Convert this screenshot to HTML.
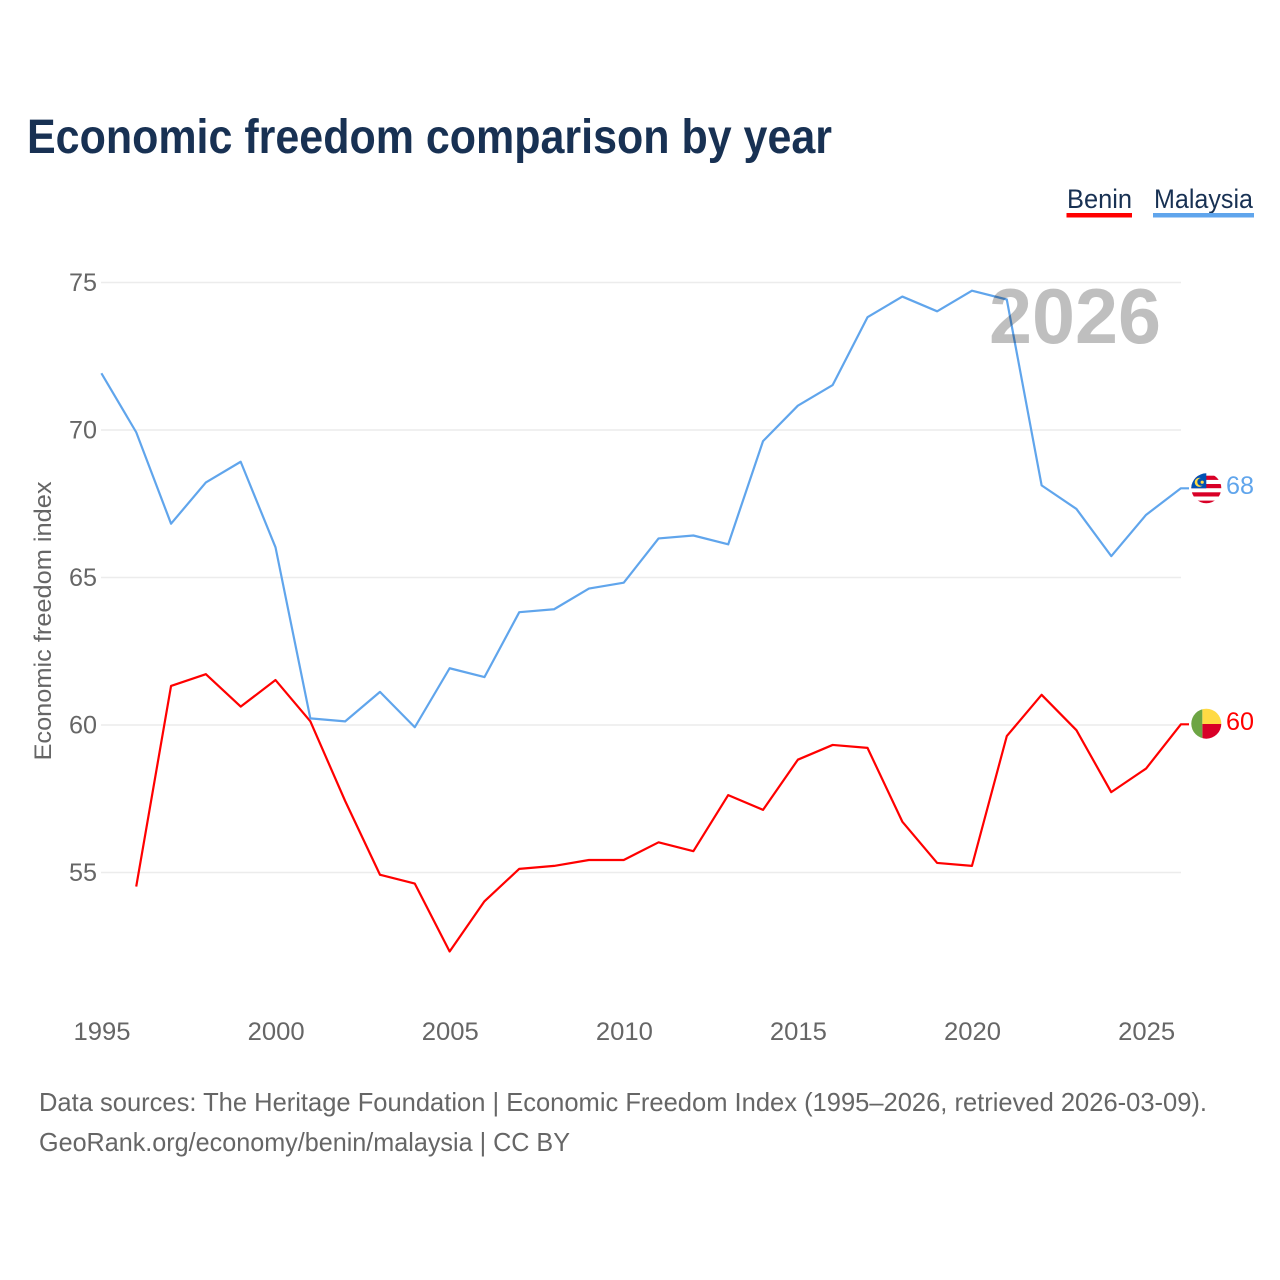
<!DOCTYPE html>
<html lang="en">
<head>
<meta charset="utf-8">
<title>Economic freedom comparison by year</title>
<style>
html,body{margin:0;padding:0;background:#fff;}
svg{display:block;font-family:"Liberation Sans",sans-serif;}
</style>
</head>
<body>
<svg id="chart" xmlns="http://www.w3.org/2000/svg" width="1280" height="1280" viewBox="0 0 1280 1280">
  <defs>
    <clipPath id="flag-clip-my"><circle cx="1206.3" cy="488.3" r="15"/></clipPath>
    <clipPath id="flag-clip-bj"><circle cx="1206.3" cy="723.7" r="15"/></clipPath>
  </defs>
  <rect width="1280" height="1280" fill="#fff"/>
  <text x="27" y="153" font-size="48" font-weight="700" fill="#183153" textLength="805" lengthAdjust="spacingAndGlyphs">Economic freedom comparison by year</text>

  <g>
    <text x="1067" y="208" font-size="27" fill="#183153" textLength="65" lengthAdjust="spacingAndGlyphs">Benin</text>
    <rect x="1066.5" y="213" width="65.5" height="4.5" fill="#ff0000"/>
  </g>
  <g>
    <text x="1154" y="208" font-size="27" fill="#183153" textLength="99" lengthAdjust="spacingAndGlyphs">Malaysia</text>
    <rect x="1153" y="213" width="101" height="4.5" fill="#60a5ec"/>
  </g>

  <g id="grid"></g>
  <g id="y-ticks"></g>
  <g id="x-ticks"></g>
  <text transform="translate(51,621) rotate(-90)" text-anchor="middle" font-size="24" fill="#666" textLength="279" lengthAdjust="spacingAndGlyphs">Economic freedom index</text>

  <g id="series"></g>

  <text x="989" y="343" font-size="78" font-weight="700" fill="#000" fill-opacity="0.25" textLength="172" lengthAdjust="spacingAndGlyphs">2026</text>

  <g clip-path="url(#flag-clip-my)">
    <rect x="1191" y="473" width="31" height="31" fill="#fff"/>
    <rect x="1191" y="475.7" width="31" height="4.2" fill="#d80027"/>
    <rect x="1191" y="484" width="31" height="4.2" fill="#d80027"/>
    <rect x="1191" y="492.3" width="31" height="4.2" fill="#d80027"/>
    <rect x="1191" y="500.6" width="31" height="4.2" fill="#d80027"/>
    <rect x="1191" y="473" width="15.3" height="15.3" fill="#0052b4"/>
    <circle cx="1199.3" cy="482.3" r="4.6" fill="#ffda44"/>
    <circle cx="1201.2" cy="481.9" r="3.9" fill="#0052b4"/>
    <circle cx="1202.2" cy="482.2" r="1.6" fill="#ffda44"/>
  </g>
  <g clip-path="url(#flag-clip-bj)">
    <rect x="1202.3" y="708" width="20" height="16" fill="#ffda44"/>
    <rect x="1202.3" y="724" width="20" height="16" fill="#d80027"/>
    <rect x="1191" y="708" width="11.3" height="32" fill="#6da544"/>
  </g>
  <text id="end-malaysia" x="1226" y="494" font-size="25" fill="#60a5ec" textLength="28" lengthAdjust="spacingAndGlyphs"></text>
  <text id="end-benin" x="1226" y="730" font-size="25" fill="#ff0000" textLength="28" lengthAdjust="spacingAndGlyphs"></text>

  <text x="39" y="1111" font-size="26" fill="#666" textLength="1168" lengthAdjust="spacingAndGlyphs">Data sources: The Heritage Foundation | Economic Freedom Index (1995–2026, retrieved 2026-03-09).</text>
  <text x="39" y="1151" font-size="26" fill="#666" textLength="531" lengthAdjust="spacingAndGlyphs">GeoRank.org/economy/benin/malaysia | CC BY</text>
</svg>
<script>
const years = [1995,1996,1997,1998,1999,2000,2001,2002,2003,2004,2005,2006,2007,2008,2009,2010,2011,2012,2013,2014,2015,2016,2017,2018,2019,2020,2021,2022,2023,2024,2025,2026];
const malaysiaValues = [71.9,69.9,66.8,68.2,68.9,66.0,60.2,60.1,61.1,59.9,61.9,61.6,63.8,63.9,64.6,64.8,66.3,66.4,66.1,69.6,70.8,71.5,73.8,74.5,74.0,74.7,74.4,68.1,67.3,65.7,67.1,68.0];
const beninValues = [null,54.5,61.3,61.7,60.6,61.5,60.1,57.4,54.9,54.6,52.3,54.0,55.1,55.2,55.4,55.4,56.0,55.7,57.6,57.1,58.8,59.3,59.2,56.7,55.3,55.2,59.6,61.0,59.8,57.7,58.5,60.0];
const yTicks = [55,60,65,70,75];
const xTicks = [1995,2000,2005,2010,2015,2020,2025];

const NS = 'http://www.w3.org/2000/svg';
function xScale(year){ return 102 + (year - 1995) * (1181.5 - 102) / 31; }
function yScale(v){ return 725 - (v - 60) * 29.5; }
function lineX(year){ return xScale(year) - 0.6; }
function lineY(v){ return yScale(v) - 0.7; }

const gridGroup = document.getElementById('grid');
const yTickGroup = document.getElementById('y-ticks');
const xTickGroup = document.getElementById('x-ticks');
const seriesGroup = document.getElementById('series');

yTicks.forEach(function(t){
  const line = document.createElementNS(NS,'line');
  
  
  line.setAttribute('x1', 101);
  line.setAttribute('x2', 1181);
  line.setAttribute('y1', yScale(t));
  line.setAttribute('y2', yScale(t));
  line.setAttribute('stroke', '#ececec');
  line.setAttribute('stroke-width', 1.6);
  gridGroup.appendChild(line);

  const label = document.createElementNS(NS,'text');
  
  
  label.setAttribute('x', 97);
  label.setAttribute('y', yScale(t) + 8.5);
  label.setAttribute('text-anchor', 'end');
  label.setAttribute('font-size', 25);
  label.setAttribute('fill', '#666');
  label.setAttribute('textLength', 28);
  label.setAttribute('lengthAdjust', 'spacingAndGlyphs');
  label.textContent = t;
  yTickGroup.appendChild(label);
});

xTicks.forEach(function(t){
  const label = document.createElementNS(NS,'text');
  
  
  label.setAttribute('x', xScale(t));
  label.setAttribute('y', 1040);
  label.setAttribute('text-anchor', 'middle');
  label.setAttribute('font-size', 25);
  label.setAttribute('fill', '#666');
  label.setAttribute('textLength', 57);
  label.setAttribute('lengthAdjust', 'spacingAndGlyphs');
  label.textContent = t;
  xTickGroup.appendChild(label);
});

function linePoints(values){
  const pts = [];
  values.forEach(function(v,i){
    if (v !== null) pts.push(lineX(years[i]).toFixed(2) + ',' + lineY(v).toFixed(2));
  });
  const last = values[values.length - 1];
  pts.push('1189,' + lineY(last).toFixed(2));
  return pts.join(' ');
}

const beninLine = document.createElementNS(NS,'polyline');


beninLine.setAttribute('points', linePoints(beninValues));
beninLine.setAttribute('fill', 'none');
beninLine.setAttribute('stroke', '#ff0000');
beninLine.setAttribute('stroke-width', 2.2);
beninLine.setAttribute('stroke-linejoin', 'round');
seriesGroup.appendChild(beninLine);

const malaysiaLine = document.createElementNS(NS,'polyline');


malaysiaLine.setAttribute('points', linePoints(malaysiaValues));
malaysiaLine.setAttribute('fill', 'none');
malaysiaLine.setAttribute('stroke', '#60a5ec');
malaysiaLine.setAttribute('stroke-width', 2.2);
malaysiaLine.setAttribute('stroke-linejoin', 'round');
seriesGroup.appendChild(malaysiaLine);

document.getElementById('end-malaysia').textContent = Math.round(malaysiaValues[malaysiaValues.length - 1]);
document.getElementById('end-benin').textContent = Math.round(beninValues[beninValues.length - 1]);
</script>
</body>
</html>
